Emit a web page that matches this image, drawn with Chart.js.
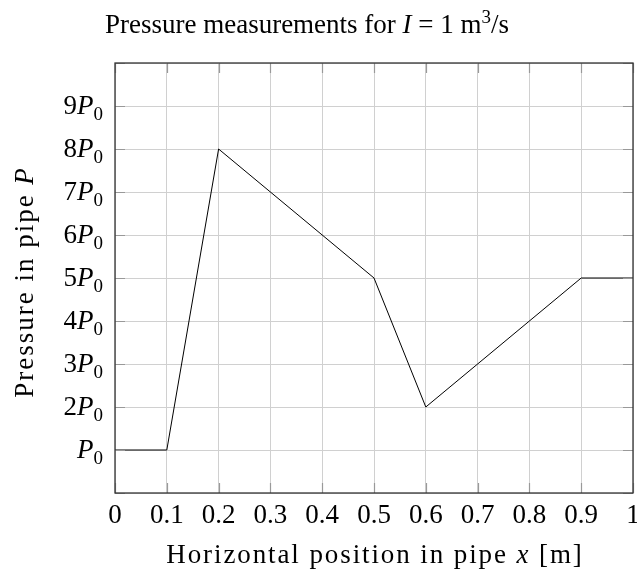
<!DOCTYPE html>
<html>
<head>
<meta charset="utf-8">
<script src="https://cdn.jsdelivr.net/npm/chart.js@4"></script>
<style>
  body { margin: 0; background: #fff; }
  #wrap { width: 637px; height: 574px; }
</style>
</head>
<body>
<div id="wrap"><canvas id="chart" width="637" height="574"></canvas></div>
<script>
// data (pressure in units of P0)
const xPositions = [0, 0.1, 0.2, 0.5, 0.6, 0.9, 1];
const pressure = [1, 1, 8, 5, 2, 5, 5];
const xTickValues = [0, 0.1, 0.2, 0.3, 0.4, 0.5, 0.6, 0.7, 0.8, 0.9, 1];
const xTickLabels = ['0', '0.1', '0.2', '0.3', '0.4', '0.5', '0.6', '0.7', '0.8', '0.9', '1'];
const yTickValues = [1, 2, 3, 4, 5, 6, 7, 8, 9];
const yTickCoefs = ['', '2', '3', '4', '5', '6', '7', '8', '9'];

const FONT = '"Liberation Serif", "DejaVu Serif", serif';
const SIZE = 27;

function fontFor(style, size) {
  if (style === 'i') return 'italic ' + size + 'px ' + FONT;
  if (style === 'sub' || style === 'sup') return Math.round(size * 0.7) + 'px ' + FONT;
  return size + 'px ' + FONT;
}

// text made of parts: [text, style], style n (normal), i (italic), sub, sup
function richWidth(ctx, parts, size) {
  let w = 0;
  parts.forEach(p => {
    ctx.font = fontFor(p[1], size);
    w += ctx.measureText(p[0]).width;
  });
  return w;
}

function drawRich(ctx, parts, x, y, align, size, spacing) {
  ctx.letterSpacing = (spacing || 0) + 'px';
  const w = richWidth(ctx, parts, size);
  let cx = x;
  if (align === 'center') cx = x - w / 2;
  if (align === 'right') cx = x - w;
  ctx.textBaseline = 'alphabetic';
  ctx.textAlign = 'left';
  parts.forEach(p => {
    ctx.font = fontFor(p[1], size);
    let dy = 0;
    if (p[1] === 'sub') dy = size * 0.22;
    if (p[1] === 'sup') dy = -size * 0.38;
    ctx.fillText(p[0], cx, y + dy);
    cx += ctx.measureText(p[0]).width;
  });
  ctx.letterSpacing = '0px';
}

const labelsPlugin = {
  id: 'labels',
  afterDraw(chart) {
    const ctx = chart.ctx;
    const a = chart.chartArea;
    const xs = chart.scales.x;
    const ys = chart.scales.y;
    ctx.save();

    // inner tick marks
    ctx.strokeStyle = '#999';
    ctx.lineWidth = 1.2;
    ctx.beginPath();
    xTickValues.forEach(v => {
      const px = Math.round(xs.getPixelForValue(v)) + 0.5;
      ctx.moveTo(px, a.bottom); ctx.lineTo(px, a.bottom - 10);
      ctx.moveTo(px, a.top); ctx.lineTo(px, a.top + 10);
    });
    for (let v = 0; v <= 10; v++) {
      const py = Math.round(ys.getPixelForValue(v)) + 0.5;
      ctx.moveTo(a.left, py); ctx.lineTo(a.left + 10, py);
      ctx.moveTo(a.right, py); ctx.lineTo(a.right - 10, py);
    }
    ctx.stroke();

    // frame
    ctx.strokeStyle = '#333';
    ctx.lineWidth = 1.3;
    ctx.strokeRect(a.left, a.top, a.right - a.left, a.bottom - a.top);

    ctx.fillStyle = '#000';
    // x tick labels
    xTickValues.forEach((v, i) => {
      drawRich(ctx, [[xTickLabels[i], 'n']], xs.getPixelForValue(v), a.bottom + 30, 'center', SIZE);
    });
    // y tick labels
    yTickValues.forEach((v, i) => {
      const parts = [];
      if (yTickCoefs[i]) parts.push([yTickCoefs[i], 'n']);
      parts.push(['P', 'i'], ['0', 'sub']);
      drawRich(ctx, parts, a.left - 12, ys.getPixelForValue(v) + 8, 'right', SIZE);
    });

    // title
    drawRich(ctx, [['Pressure measurements for ', 'n'], ['I', 'i'], [' = 1 m', 'n'], ['3', 'sup'], ['/s', 'n']],
      307, 33, 'center', SIZE);
    // x axis title
    drawRich(ctx, [['Horizontal position in pipe ', 'n'], ['x', 'i'], [' [m]', 'n']],
      375, 563, 'center', SIZE, 1.9);
    // y axis title
    ctx.translate(33, 282);
    ctx.rotate(-Math.PI / 2);
    drawRich(ctx, [['Pressure in pipe ', 'n'], ['P', 'i']], 0, 0, 'center', SIZE, 2);
    ctx.restore();
  }
};

new Chart(document.getElementById('chart'), {
  type: 'scatter',
  data: {
    datasets: [{
      data: xPositions.map((x, i) => ({ x: x, y: pressure[i] })),
      showLine: true,
      borderColor: '#000',
      borderWidth: 1,
      pointRadius: 0,
      tension: 0
    }]
  },
  options: {
    responsive: false,
    animation: false,
    layout: { padding: { left: 115, right: 4, top: 63, bottom: 81 } },
    plugins: { legend: { display: false }, tooltip: { enabled: false } },
    scales: {
      x: {
        type: 'linear', min: 0, max: 1,
        ticks: { display: false, stepSize: 0.1 },
        grid: { color: '#d0d0d0', lineWidth: 1, drawTicks: false },
        border: { display: false }
      },
      y: {
        type: 'linear', min: 0, max: 10,
        ticks: { display: false, stepSize: 1 },
        grid: { color: '#d0d0d0', lineWidth: 1, drawTicks: false },
        border: { display: false }
      }
    }
  },
  plugins: [labelsPlugin]
});
</script>
</body>
</html>
